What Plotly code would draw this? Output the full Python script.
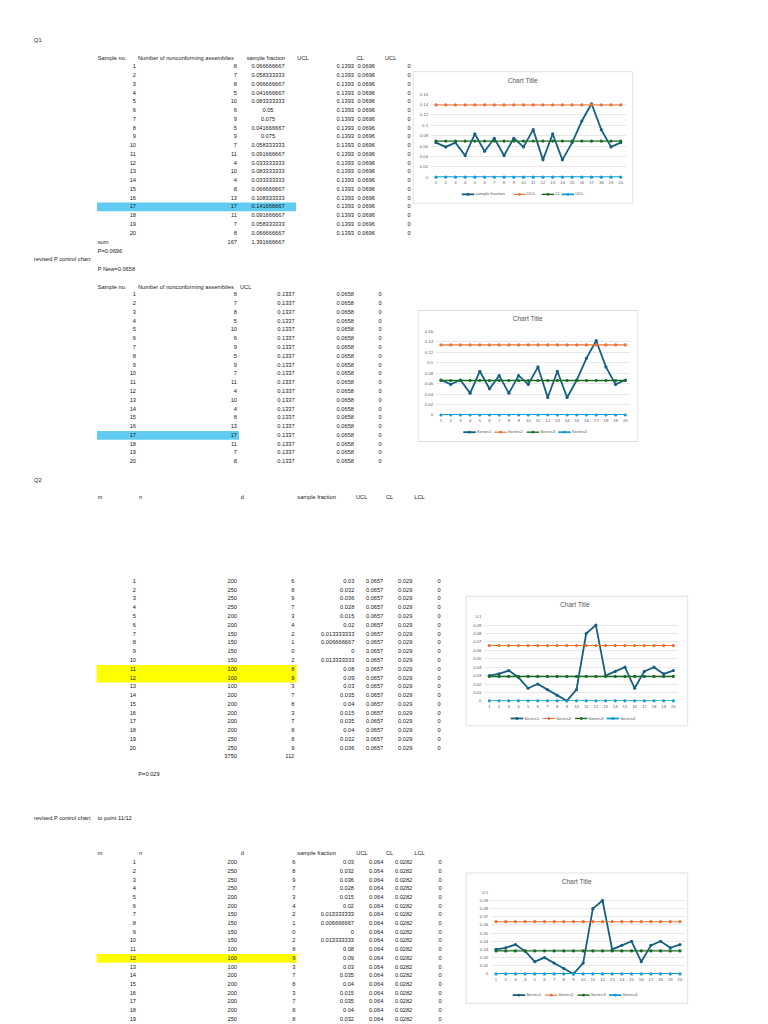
import plotly.graph_objects as go

W, H = 768, 1024
FONT = "Liberation Sans"
TXT = "#1a1a1a"
GRAY = "#595959"

# ---------------- data ----------------
q1_sample = list(range(1, 21))
q1_nonconf = [8, 7, 8, 5, 10, 6, 9, 5, 9, 7, 11, 4, 10, 4, 8, 13, 17, 11, 7, 8]
q1_fraction = [0.066666667, 0.058333333, 0.066666667, 0.041666667, 0.083333333,
               0.05, 0.075, 0.041666667, 0.075, 0.058333333,
               0.091666667, 0.033333333, 0.083333333, 0.033333333, 0.066666667,
               0.108333333, 0.141666667, 0.091666667, 0.058333333, 0.066666667]
q1_ucl, q1_cl, q1_lcl = 0.1393, 0.0696, 0
q1_sum_nonconf, q1_sum_fraction = 167, 1.391666667
q1r_ucl, q1r_cl, q1r_lcl = 0.1337, 0.0658, 0

q2_m = list(range(1, 21))
q2_n = [200, 250, 250, 250, 200, 200, 150, 150, 150, 150,
        100, 100, 100, 200, 200, 200, 200, 200, 250, 250]
q2_d = [6, 8, 9, 7, 3, 4, 2, 1, 0, 2, 8, 9, 3, 7, 8, 3, 7, 8, 8, 9]
q2_fraction = [0.03, 0.032, 0.036, 0.028, 0.015, 0.02, 0.013333333, 0.006666667, 0, 0.013333333,
               0.08, 0.09, 0.03, 0.035, 0.04, 0.015, 0.035, 0.04, 0.032, 0.036]
q2_ucl, q2_cl, q2_lcl = 0.0657, 0.029, 0
q2_sum_n, q2_sum_d = 3750, 112
q2r_ucl, q2r_cl, q2r_lcl = 0.064, 0.0282, 0

x_ticks = list(range(1, 21))
y_ticks_q1 = [0, 0.02, 0.04, 0.06, 0.08, 0.1, 0.12, 0.14, 0.16]
y_labels_q1 = ["0", "0.02", "0.04", "0.06", "0.08", "0.1", "0.12", "0.14", "0.16"]
y_ticks_q2 = [0, 0.01, 0.02, 0.03, 0.04, 0.05, 0.06, 0.07, 0.08, 0.09, 0.1]
y_labels_q2 = ["0", "0.01", "0.02", "0.03", "0.04", "0.05", "0.06", "0.07", "0.08", "0.09", "0.1"]

legend_q1 = ["sample fraction", "UCL", "CL", "UCL"]
legend_generic = ["Series1", "Series2", "Series3", "Series4"]
SER_COLORS = ["#156082", "#E97132", "#196B24", "#0F9ED5"]
SER_WIDTHS = [1.8, 1.1, 1.4, 1.8]


def fmt(v):
    if isinstance(v, int):
        return str(v)
    s = f"{v:.9f}".rstrip("0").rstrip(".")
    return s if s else "0"


fig = go.Figure()
shapes = []


def text_col(xs, ys, texts, align="right", size=5.7, color=TXT):
    pos = {"right": "middle left", "left": "middle right", "center": "middle center"}[align]
    fig.add_trace(go.Scatter(
        x=xs, y=ys, text=texts, mode="text", textposition=pos,
        textfont=dict(size=size, color=color, family=FONT),
        marker=dict(size=0), hoverinfo="skip", showlegend=False,
        xaxis="x", yaxis="y"))


def table(row1_y, step, columns):
    ys = [row1_y + i * step for i in range(20)]
    for xpos, values, align in columns:
        text_col([xpos] * len(values), ys[:len(values)], [fmt(v) for v in values], align)
    return ys


def highlight(ys, step, rows, x0, x1, color):
    shapes.append(dict(type="rect", xref="x", yref="y", layer="below",
                       x0=x0, x1=x1,
                       y0=ys[rows[0] - 1] - step / 2, y1=ys[rows[-1] - 1] + step / 2,
                       fillcolor=color, line=dict(width=0)))


def singles(items):
    for xp, yp, t, al in items:
        text_col([xp], [yp], [t], al)


# ---------------- Q1 table ----------------
singles([(34, 39, "Q1", "left")])
singles([(97.7, 56.7, "Sample no.", "left"),
         (138, 56.7, "Number of nonconforming assemblies", "left"),
         (246.7, 56.7, "sample fraction", "left"),
         (297.3, 56.7, "UCL", "left"),
         (356.7, 56.7, "CL", "left"),
         (385, 56.7, "UCL", "left")])
st1 = 8.79
ys1 = table(65.3, st1, [
    (136, q1_sample, "right"),
    (237, q1_nonconf, "right"),
    (268, q1_fraction, "center"),
    (354, [q1_ucl] * 20, "right"),
    (375, [q1_cl] * 20, "right"),
    (410.7, [q1_lcl] * 20, "right")])
highlight(ys1, st1, [17], 97, 296, "#61CBF3")
singles([(97.7, 241.7, "sum", "left"),
         (237, 241.7, fmt(q1_sum_nonconf), "right"),
         (268, 241.7, fmt(q1_sum_fraction), "center"),
         (97.7, 250.7, "P=" + fmt(q1_cl), "left")])

# ---------------- Q1 revised ----------------
singles([(34, 259.3, "revised P control chart", "left"),
         (97.7, 269.3, "P New=" + fmt(q1r_cl), "left"),
         (97.7, 286.7, "Sample no.", "left"),
         (138, 286.7, "Number of nonconforming assemblies", "left"),
         (240, 286.7, "UCL", "left")])
st2 = 8.83
ys2 = table(294.3, st2, [
    (136, q1_sample, "right"),
    (237, q1_nonconf, "right"),
    (294.7, [q1r_ucl] * 20, "right"),
    (354, [q1r_cl] * 20, "right"),
    (381.7, [q1r_lcl] * 20, "right")])
highlight(ys2, st2, [17], 97, 239, "#61CBF3")

# ---------------- Q2 ----------------
hdr_q2 = [(97.7, "m"), (139, "n"), (240.7, "d"), (297.3, "sample fraction"),
          (356, "UCL"), (386, "CL"), (414.3, "LCL")]
singles([(34, 481, "Q2", "left")])
singles([(xp, 497.7, t, "left") for xp, t in hdr_q2])
st3 = 8.83
ys3 = table(582.3, st3, [
    (136, q2_m, "right"),
    (237, q2_n, "right"),
    (294.3, q2_d, "right"),
    (354.3, q2_fraction, "right"),
    (383.3, [q2_ucl] * 20, "right"),
    (412.3, [q2_cl] * 20, "right"),
    (440.7, [q2_lcl] * 20, "right")])
highlight(ys3, st3, [11, 12], 96.7, 296.7, "#FFFF00")
singles([(237, 758.7, fmt(q2_sum_n), "right"),
         (294.3, 758.7, fmt(q2_sum_d), "right"),
         (138.3, 776.7, "P=" + fmt(q2_cl), "left")])

# ---------------- Q2 revised ----------------
singles([(34, 820.7, "revised P control chart", "left"),
         (97.7, 820.7, "to point 11/12", "left")])
singles([(xp + (0.3 if t == "UCL" else 0), 856, t, "left") for xp, t in hdr_q2])
st4 = 8.74
ys4 = table(865, st4, [
    (136, q2_m, "right"),
    (237, q2_n, "right"),
    (295.3, q2_d, "right"),
    (354, q2_fraction, "right"),
    (383.3, [q2r_ucl] * 20, "right"),
    (412.3, [q2r_cl] * 20, "right"),
    (441.7, [q2r_lcl] * 20, "right")])
highlight(ys4, st4, [12], 96.7, 296.7, "#FFFF00")

# ---------------- charts ----------------
charts = [
    dict(box=(413.3, 70, 632.7, 202.3), plot=(431.1, 625.6, 92.7, 176),
         title=(522.7, 80), leg_y=193.3, leg_x=[461.7, 513.3, 541.7, 561.7],
         names=legend_q1, frac=q1_fraction, lim=(q1_ucl, q1_cl, q1_lcl),
         yt=y_ticks_q1, yl=y_labels_q1),
    dict(box=(418.3, 310, 637.7, 441.7), plot=(436.15, 630.15, 330.7, 415),
         title=(527.7, 319), leg_y=432.3, leg_x=[463.3, 494.3, 526.7, 558.3],
         names=legend_generic, frac=q1_fraction, lim=(q1r_ucl, q1r_cl, q1r_lcl),
         yt=y_ticks_q1, yl=y_labels_q1),
    dict(box=(466, 597.3, 687.7, 727.3), plot=(484.5, 678.2, 617.7, 702.3),
         title=(575, 606), leg_y=720, leg_x=[510.7, 542.7, 575, 606.7],
         names=legend_generic, frac=q2_fraction, lim=(q2_ucl, q2_cl, q2_lcl),
         yt=y_ticks_q2, yl=y_labels_q2),
    dict(box=(466, 875.3, 687.7, 1006.3), plot=(491.2, 684.8, 894.7, 976.7),
         title=(576.7, 884.7), leg_y=998, leg_x=[512.7, 545, 577.3, 609],
         names=legend_generic, frac=q2_fraction, lim=(q2r_ucl, q2r_cl, q2r_lcl),
         yt=y_ticks_q2, yl=y_labels_q2),
]

layout_axes = {}
for k, ch in enumerate(charts):
    n = k + 2
    bx0, by0, bx1, by1 = ch["box"]
    shapes.append(dict(type="rect", xref="x", yref="y", layer="below",
                       x0=bx0, x1=bx1, y0=by0, y1=by1,
                       fillcolor="rgba(0,0,0,0)", line=dict(color="#D9D9D9", width=0.8)))
    series = [ch["frac"], [ch["lim"][0]] * 20, [ch["lim"][1]] * 20, [ch["lim"][2]] * 20]
    for s_i, vals in enumerate(series):
        fig.add_trace(go.Scatter(
            x=x_ticks, y=vals, mode="lines+markers",
            line=dict(color=SER_COLORS[s_i], width=SER_WIDTHS[s_i]),
            marker=dict(color=SER_COLORS[s_i], size=3.2, symbol="circle"),
            hoverinfo="skip", showlegend=False, cliponaxis=False,
            xaxis=f"x{n}", yaxis=f"y{n}"))
    px0, px1, py0, py1 = ch["plot"]
    layout_axes[f"xaxis{n}"] = dict(
        domain=[px0 / W, px1 / W], range=[0.5, 20.5], anchor=f"y{n}",
        tickvals=x_ticks, ticktext=[str(v) for v in x_ticks],
        tickfont=dict(size=4.3, color=GRAY, family=FONT),
        showgrid=False, zeroline=False, showline=False, ticks="", fixedrange=True,
        ticklabelstandoff=2)
    layout_axes[f"yaxis{n}"] = dict(
        domain=[1 - py1 / H, 1 - py0 / H], range=[0, ch["yt"][-1]], anchor=f"x{n}",
        tickvals=ch["yt"], ticktext=ch["yl"],
        tickfont=dict(size=4.3, color=GRAY, family=FONT),
        gridcolor="#D9D9D9", gridwidth=0.6, zeroline=False, showline=False,
        ticks="", fixedrange=True, ticklabelstandoff=2)
    # title
    text_col([ch["title"][0]], [ch["title"][1]], ["Chart Title"], "center", size=6.6, color=GRAY)
    # legend
    ly = ch["leg_y"]
    for s_i, lx in enumerate(ch["leg_x"]):
        shapes.append(dict(type="line", xref="x", yref="y", x0=lx, x1=lx + 12.5, y0=ly, y1=ly,
                           line=dict(color=SER_COLORS[s_i], width=SER_WIDTHS[s_i])))
        cx = lx + 6.25
        shapes.append(dict(type="circle", xref="x", yref="y", x0=cx - 1.4, x1=cx + 1.4,
                           y0=ly - 1.4, y1=ly + 1.4, fillcolor=SER_COLORS[s_i],
                           line=dict(width=0)))
    text_col([lx + 13.5 for lx in ch["leg_x"]], [ly] * 4, ch["names"], "left", size=4.4, color=GRAY)

fig.update_layout(
    width=W, height=H, autosize=False,
    margin=dict(l=0, r=0, t=0, b=0, pad=0),
    paper_bgcolor="white", plot_bgcolor="white",
    showlegend=False,
    xaxis=dict(domain=[0, 1], range=[0, W], visible=False, fixedrange=True),
    yaxis=dict(domain=[0, 1], range=[H, 0], visible=False, fixedrange=True),
    shapes=shapes,
    **layout_axes,
)

fig.write_html("out.html", config={"displayModeBar": False, "staticPlot": True},
               post_script="document.body.style.margin='0';")
